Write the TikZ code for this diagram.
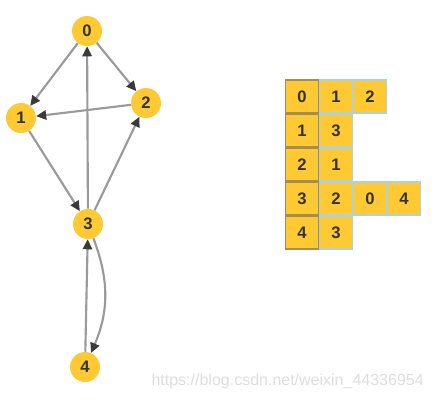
\documentclass[tikz,border=0pt]{standalone}
\usepackage{fontspec}
\setmainfont{Liberation Sans}
\usetikzlibrary{arrows.meta}
\newcommand{\unitsize}{0.75pt}
\definecolor{nodeyellow}{HTML}{FEC932}
\definecolor{edgegray}{HTML}{9A9A9A}
\definecolor{tipgray}{HTML}{3A3A3A}
\definecolor{headborder}{HTML}{A48C55}
\definecolor{cellborder}{HTML}{A8D3E0}
\definecolor{digitgray}{HTML}{333333}

\begin{document}
\begin{tikzpicture}[x=\unitsize, y=-\unitsize]
\useasboundingbox (0,0) rectangle (434,400);
\tikzstyle{vertex}=[circle,
			fill=nodeyellow,
			text=digitgray,
			minimum size = 30*\unitsize,
			inner sep=0pt,
			font=\fontsize{12.5}{14}\selectfont\bfseries
			]
\tikzstyle{edge}=[draw=edgegray,
			line width=1.6pt,
			-{Triangle[length=7.5pt,width=7pt,color=tipgray,fill=tipgray]}
			]
\tikzstyle{headcell}=[rectangle,
			fill=nodeyellow,
			draw=headborder,
			line width=1pt,
			text=digitgray,
			minimum size = 33.3*\unitsize,
			inner sep=0pt,
			font=\fontsize{12.5}{14}\selectfont\bfseries
			]
\tikzstyle{listcell}=[headcell, draw=cellborder]

% graph
\node[vertex] (n0) at (87,31) {0};
\node[vertex] (n1) at (21,118) {1};
\node[vertex] (n2) at (146,103) {2};
\node[vertex] (n3) at (88,224) {3};
\node[vertex] (n4) at (85,367) {4};

\draw[edge] (n0) -- (n1);
\draw[edge] (n0) -- (n2);
\draw[edge] (n2) -- (n1);
\draw[edge] (n1) -- (n3);
\draw[edge] (n3) -- (n2);
\draw[edge] (n3) -- (n0);
\draw[edge] (n4) -- (n3);
\draw[edge] (n3) to[bend left=22] (n4);

% adjacency list
\node[listcell] (c01) at (336,96.5) {1};
\node[listcell] (c02) at (370,96.5) {2};
\node[listcell] (c11) at (336,130.5) {3};
\node[listcell] (c21) at (336,164.5) {1};
\node[listcell] (c31) at (336,198.5) {2};
\node[listcell] (c32) at (370,198.5) {0};
\node[listcell] (c33) at (404,198.5) {4};
\node[listcell] (c41) at (336,232.5) {3};

\node[headcell] (c00) at (302,96.5) {0};
\node[headcell] (c10) at (302,130.5) {1};
\node[headcell] (c20) at (302,164.5) {2};
\node[headcell] (c30) at (302,198.5) {3};
\node[headcell] (c40) at (302,232.5) {4};

% watermark
\node[anchor=east, text=black!13, inner sep=0pt, font=\fontsize{12}{14}\selectfont] (mark) at (424,381) {https://blog.csdn.net/weixin\_44336954};
\end{tikzpicture}
\end{document}
